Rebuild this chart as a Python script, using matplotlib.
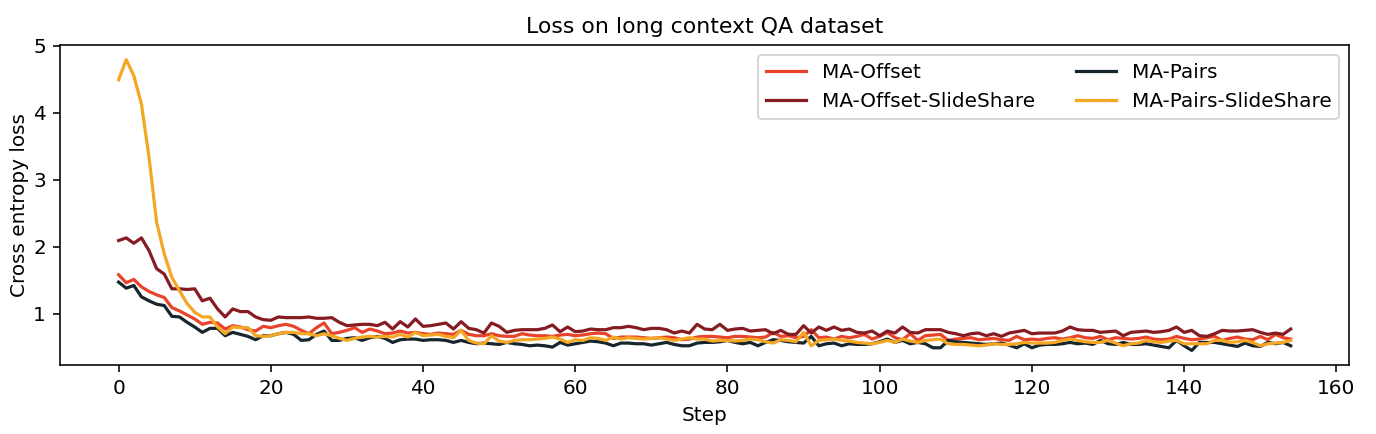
import numpy as np
import matplotlib.pyplot as plt

# values, one per step (0..154)
ma_offset = [
    1.58, 1.46, 1.51, 1.40, 1.33, 1.28, 1.24, 1.09, 1.04, 0.98,
    0.92, 0.84, 0.87, 0.86, 0.77, 0.82, 0.80, 0.76, 0.74, 0.81,
    0.79, 0.82, 0.84, 0.81, 0.75, 0.70, 0.79, 0.86, 0.70, 0.72,
    0.75, 0.79, 0.72, 0.77, 0.74, 0.70, 0.71, 0.74, 0.71, 0.72,
    0.70, 0.69, 0.71, 0.70, 0.69, 0.75, 0.69, 0.67, 0.67, 0.70,
    0.67, 0.66, 0.66, 0.70, 0.68, 0.67, 0.67, 0.66, 0.68, 0.69,
    0.67, 0.68, 0.70, 0.71, 0.70, 0.63, 0.65, 0.65, 0.65, 0.64,
    0.63, 0.64, 0.65, 0.64, 0.61, 0.62, 0.65, 0.66, 0.66, 0.65,
    0.64, 0.66, 0.66, 0.65, 0.64, 0.65, 0.72, 0.66, 0.67, 0.64,
    0.66, 0.76, 0.64, 0.65, 0.62, 0.66, 0.64, 0.66, 0.69, 0.62,
    0.66, 0.72, 0.64, 0.61, 0.70, 0.60, 0.67, 0.68, 0.69, 0.60,
    0.62, 0.63, 0.64, 0.61, 0.62, 0.63, 0.61, 0.60, 0.66, 0.61,
    0.62, 0.61, 0.63, 0.64, 0.62, 0.64, 0.67, 0.64, 0.63, 0.66,
    0.61, 0.64, 0.63, 0.62, 0.63, 0.65, 0.62, 0.61, 0.62, 0.66,
    0.63, 0.61, 0.62, 0.64, 0.66, 0.60, 0.63, 0.65, 0.62, 0.61,
    0.66, 0.61, 0.69, 0.64, 0.62,
]

ma_offset_slideshare = [
    2.09, 2.13, 2.05, 2.13, 1.94, 1.67, 1.59, 1.37, 1.37, 1.36,
    1.37, 1.19, 1.23, 1.07, 0.95, 1.07, 1.03, 1.03, 0.95, 0.91,
    0.90, 0.95, 0.94, 0.94, 0.94, 0.95, 0.93, 0.93, 0.94, 0.87,
    0.82, 0.83, 0.84, 0.84, 0.82, 0.87, 0.77, 0.88, 0.80, 0.92,
    0.81, 0.82, 0.84, 0.86, 0.77, 0.88, 0.78, 0.76, 0.71, 0.86,
    0.81, 0.72, 0.75, 0.76, 0.76, 0.76, 0.78, 0.83, 0.73, 0.80,
    0.73, 0.74, 0.77, 0.76, 0.76, 0.79, 0.79, 0.81, 0.79, 0.76,
    0.78, 0.78, 0.76, 0.71, 0.74, 0.71, 0.84, 0.77, 0.76, 0.84,
    0.75, 0.77, 0.78, 0.74, 0.75, 0.76, 0.70, 0.75, 0.69, 0.69,
    0.82, 0.71, 0.80, 0.75, 0.80, 0.75, 0.77, 0.72, 0.71, 0.74,
    0.67, 0.74, 0.71, 0.80, 0.72, 0.71, 0.76, 0.76, 0.76, 0.72,
    0.70, 0.67, 0.70, 0.71, 0.67, 0.70, 0.66, 0.71, 0.73, 0.75,
    0.70, 0.71, 0.71, 0.71, 0.74, 0.80, 0.76, 0.75, 0.75, 0.72,
    0.73, 0.74, 0.67, 0.72, 0.73, 0.74, 0.72, 0.73, 0.75, 0.80,
    0.72, 0.75, 0.67, 0.66, 0.70, 0.75, 0.74, 0.74, 0.75, 0.76,
    0.72, 0.69, 0.71, 0.69, 0.77,
]

ma_pairs = [
    1.47, 1.38, 1.42, 1.25, 1.19, 1.14, 1.12, 0.96, 0.95, 0.87,
    0.80, 0.72, 0.78, 0.78, 0.67, 0.72, 0.69, 0.66, 0.61, 0.67,
    0.67, 0.70, 0.72, 0.69, 0.60, 0.61, 0.69, 0.74, 0.60, 0.60,
    0.63, 0.64, 0.60, 0.64, 0.66, 0.63, 0.57, 0.61, 0.62, 0.62,
    0.60, 0.61, 0.61, 0.60, 0.57, 0.60, 0.57, 0.55, 0.56, 0.55,
    0.54, 0.57, 0.55, 0.54, 0.52, 0.53, 0.52, 0.50, 0.57, 0.53,
    0.55, 0.57, 0.59, 0.58, 0.56, 0.52, 0.56, 0.56, 0.55, 0.55,
    0.53, 0.55, 0.57, 0.54, 0.52, 0.52, 0.56, 0.57, 0.57, 0.58,
    0.60, 0.57, 0.55, 0.57, 0.52, 0.57, 0.61, 0.60, 0.58, 0.57,
    0.56, 0.66, 0.52, 0.55, 0.56, 0.52, 0.55, 0.54, 0.54, 0.55,
    0.58, 0.62, 0.57, 0.60, 0.55, 0.57, 0.55, 0.49, 0.49, 0.60,
    0.58, 0.57, 0.56, 0.55, 0.54, 0.55, 0.56, 0.53, 0.49, 0.55,
    0.49, 0.53, 0.54, 0.54, 0.55, 0.57, 0.55, 0.56, 0.54, 0.60,
    0.55, 0.54, 0.57, 0.54, 0.54, 0.55, 0.53, 0.51, 0.49, 0.60,
    0.52, 0.45, 0.57, 0.57, 0.57, 0.55, 0.53, 0.51, 0.56, 0.52,
    0.51, 0.57, 0.55, 0.57, 0.52,
]

ma_pairs_slideshare = [
    4.49, 4.79, 4.55, 4.13, 3.33, 2.36, 1.89, 1.54, 1.34, 1.15,
    1.02, 0.95, 0.95, 0.80, 0.70, 0.80, 0.79, 0.79, 0.67, 0.66,
    0.67, 0.70, 0.72, 0.72, 0.70, 0.70, 0.67, 0.70, 0.67, 0.63,
    0.60, 0.63, 0.65, 0.66, 0.65, 0.66, 0.65, 0.69, 0.65, 0.72,
    0.67, 0.68, 0.69, 0.66, 0.64, 0.75, 0.60, 0.56, 0.55, 0.67,
    0.59, 0.57, 0.60, 0.61, 0.61, 0.62, 0.63, 0.65, 0.62, 0.57,
    0.61, 0.60, 0.64, 0.63, 0.60, 0.65, 0.62, 0.64, 0.63, 0.62,
    0.63, 0.64, 0.62, 0.60, 0.62, 0.64, 0.62, 0.62, 0.59, 0.60,
    0.60, 0.59, 0.60, 0.62, 0.61, 0.58, 0.56, 0.61, 0.60, 0.58,
    0.72, 0.52, 0.60, 0.61, 0.62, 0.60, 0.59, 0.57, 0.56, 0.55,
    0.57, 0.60, 0.57, 0.62, 0.59, 0.57, 0.60, 0.61, 0.62, 0.55,
    0.54, 0.54, 0.53, 0.52, 0.53, 0.55, 0.54, 0.54, 0.55, 0.57,
    0.56, 0.56, 0.56, 0.57, 0.60, 0.62, 0.60, 0.58, 0.57, 0.57,
    0.60, 0.56, 0.52, 0.55, 0.56, 0.60, 0.58, 0.57, 0.59, 0.60,
    0.55, 0.55, 0.55, 0.55, 0.60, 0.60, 0.57, 0.58, 0.60, 0.57,
    0.52, 0.55, 0.56, 0.57, 0.60,
]

steps = np.arange(len(ma_offset))

fig = plt.figure(figsize=(1376 / 144, 434 / 144), dpi=144)
ax = fig.add_axes([0.0436, 0.159, 0.937, 0.737])

ax.plot(steps, ma_offset, color='#e8442b', lw=1.6, label='MA-Offset')
ax.plot(steps, ma_offset_slideshare, color='#861c22', lw=1.6, label='MA-Offset-SlideShare')
ax.plot(steps, ma_pairs, color='#17252d', lw=1.6, label='MA-Pairs')
ax.plot(steps, ma_pairs_slideshare, color='#f4a722', lw=1.6, label='MA-Pairs-SlideShare')

ax.set_title('Loss on long context QA dataset', fontsize=11)
ax.set_xlabel('Step')
ax.set_ylabel('Cross entropy loss', labelpad=2)
ax.legend(loc='upper right', ncol=2)

fig.savefig('out.png', dpi=144)
